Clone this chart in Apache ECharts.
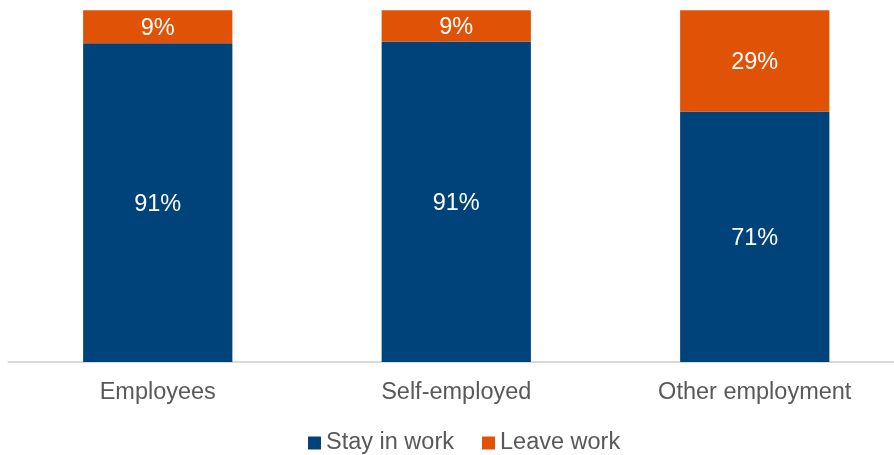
<!DOCTYPE html>
<html>
<head>
<meta charset="utf-8">
<script src="https://cdn.jsdelivr.net/npm/echarts@6/dist/echarts.min.js"></script>
<style>
html,body{margin:0;padding:0;background:#fff;overflow:hidden;width:894px;height:455px;}
#chart{width:904px;height:455px;}
</style>
</head>
<body>
<div id="chart"></div>
<script>
const categories = ['Employees', 'Self-employed', 'Other employment'];
const stayInWork = [90.6, 91.1, 71.2];
const leaveWork = [9.4, 8.9, 28.8];
const seriesNames = ['Stay in work', 'Leave work'];

const chart = echarts.init(document.getElementById('chart'), null, {renderer: 'canvas'});
const font = '"Liberation Sans", Arial, sans-serif';
const labelCfg = {
  show: true,
  position: 'inside',
  offset: [0, 2],
  color: '#ffffff',
  fontSize: 23.5,
  fontFamily: font,
  formatter: p => Math.round(p.value) + '%'
};
chart.setOption({
  animation: false,
  textStyle: {fontFamily: font},
  grid: {left: 8.5, right: 0, top: 10.3, bottom: 93, containLabel: false},
  legend: {
    data: seriesNames,
    left: 303,
    top: 426,
    icon: 'rect',
    itemWidth: 13,
    itemHeight: 13,
    itemGap: 28,
    textStyle: {fontSize: 23.5, color: '#595959', fontFamily: font}
  },
  xAxis: {
    type: 'category',
    data: categories,
    axisLine: {lineStyle: {color: '#d9d9d9', width: 2}},
    axisTick: {show: false},
    axisLabel: {fontSize: 23.5, color: '#595959', margin: 19, fontFamily: font}
  },
  yAxis: {
    type: 'value',
    min: 0,
    max: 100,
    show: false,
    splitLine: {show: false}
  },
  series: [
    {
      name: seriesNames[0],
      type: 'bar',
      stack: 'total',
      barWidth: '50%',
      data: stayInWork,
      itemStyle: {color: '#00427a'},
      label: labelCfg
    },
    {
      name: seriesNames[1],
      type: 'bar',
      stack: 'total',
      barWidth: '50%',
      data: leaveWork,
      itemStyle: {color: '#e05206'},
      label: labelCfg
    }
  ]
});
</script>
</body>
</html>
